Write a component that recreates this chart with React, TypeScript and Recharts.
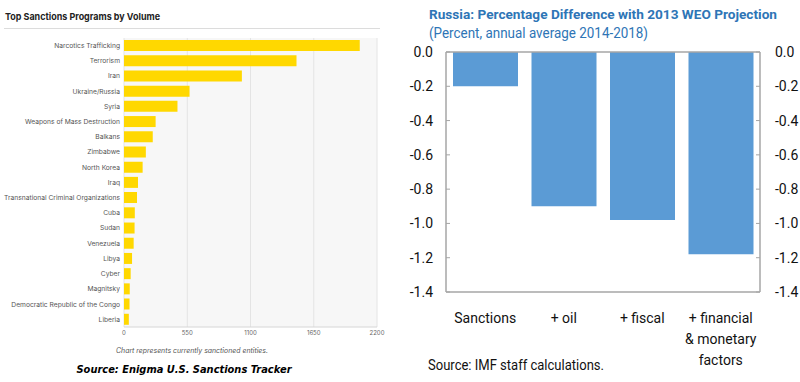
import React from 'react';
import { ComposedChart, BarChart, Bar, Line, XAxis, YAxis, CartesianGrid, ReferenceLine } from 'recharts';

// left panel: sanctions programs by number of sanctioned entities
const programs = [
  'Narcotics Trafficking',
  'Terrorism',
  'Iran',
  'Ukraine/Russia',
  'Syria',
  'Weapons of Mass Destruction',
  'Balkans',
  'Zimbabwe',
  'North Korea',
  'Iraq',
  'Transnational Criminal Organizations',
  'Cuba',
  'Sudan',
  'Venezuela',
  'Libya',
  'Cyber',
  'Magnitsky',
  'Democratic Republic of the Congo',
  'Liberia',
];
const programCounts = [2050, 1500, 1025, 570, 465, 275, 250, 190, 162, 122, 113, 94, 92, 84, 70, 58, 50, 48, 42];
const volumeTicks = [0, 550, 1100, 1650, 2200];

// right panel: IMF scenarios
const scenarios = ['Sanctions', '+ oil', '+ fiscal', '+ financial\n& monetary\nfactors'];
const scenarioDiffs = [-0.2, -0.9, -0.98, -1.18];
const pctTicks = [0, -0.2, -0.4, -0.6, -0.8, -1.0, -1.2, -1.4];

const programData = programs.map((name, i) => ({ name, count: programCounts[i] }));
const scenarioData = scenarios.map((name, i) => ({ name, diff: scenarioDiffs[i] }));

const leftFont = "Inter, 'Open Sans', sans-serif";
const rightFont = "Roboto, 'Liberation Sans', sans-serif";
const imfBlue = '#2e75b6';
const frame = '#a6a6a6';

const ProgramTick = (props: any) => {
  const { x, y, payload } = props;
  return (
    <text x={x} y={y} dy="0.35em" textAnchor="end" fontSize={6.7} fill="#555" fontFamily={leftFont}>
      {payload.value}
    </text>
  );
};

const ScenarioTick = (props: any) => {
  const { x, y, payload } = props;
  const lines = String(payload.value).split('\n');
  return (
    <text x={x} y={y} textAnchor="middle" fontSize={14} fill="#111" fontFamily={rightFont}>
      {lines.map((line, i) => (
        <tspan key={i} x={x} dy={i === 0 ? '0.71em' : 21}>
          {line}
        </tspan>
      ))}
    </text>
  );
};

const App: React.FC = () => {
  return (
    <div style={{ position: 'absolute', left: 0, top: 0, width: 800, height: 382, background: '#fff', overflow: 'hidden' }}>
      {/* left panel */}
      <div style={{ position: 'absolute', left: 0, top: 0, width: 385, height: 382 }}>
        <BarChart
          width={385}
          height={345}
          data={programData}
          layout="vertical"
          margin={{ top: 38, right: 8, left: 0, bottom: 4 }}
          barSize={11}
          barCategoryGap={0}
        >
          <CartesianGrid horizontal={false} stroke="#e4e4e4" fill="#f7f7f7" />
          <XAxis
            type="number"
            domain={[0, 2200]}
            ticks={volumeTicks}
            height={14}
            axisLine={{ stroke: '#d6d6d6' }}
            tickLine={false}
            tickSize={0}
            tickMargin={4}
            tick={{ fontSize: 6, fill: '#666', fontFamily: leftFont }}
          />
          <YAxis
            type="category"
            dataKey="name"
            width={124}
            axisLine={false}
            tickLine={false}
            tickSize={0}
            tickMargin={4}
            interval={0}
            tick={<ProgramTick />}
          />
          <Bar dataKey="count" fill="#ffd800" isAnimationActive={false} />
        </BarChart>
        <svg width={385} height={382} style={{ position: 'absolute', left: 0, top: 0, pointerEvents: 'none' }}>
          <text x={5} y={20} fontSize={9.5} fontWeight={700} fill="#222" fontFamily={leftFont} textLength={155} lengthAdjust="spacingAndGlyphs">
            Top Sanctions Programs by Volume
          </text>
          <line x1={4} x2={380} y1={28.5} y2={28.5} stroke="#dcdcdc" />
          <text x={192} y={353} textAnchor="middle" fontSize={7} fontStyle="italic" fill="#555" fontFamily={leftFont} textLength={152} lengthAdjust="spacingAndGlyphs">
            Chart represents currently sanctioned entities.
          </text>
          <text x={184} y={373} textAnchor="middle" fontSize={10.5} fontStyle="italic" fontWeight={700} fill="#000" fontFamily="'DejaVu Sans', sans-serif" textLength={215} lengthAdjust="spacingAndGlyphs">
            Source: Enigma U.S. Sanctions Tracker
          </text>
        </svg>
      </div>

      {/* right panel */}
      <div style={{ position: 'absolute', left: 380, top: 0, width: 420, height: 382 }}>
        <ComposedChart
          width={420}
          height={382}
          data={scenarioData}
          margin={{ top: 52, right: 0, left: 0, bottom: 20 }}
          barSize={65}
        >
          <XAxis
            dataKey="name"
            height={70}
            axisLine={{ stroke: frame, strokeWidth: 1.5 }}
            tickLine={false}
            tickSize={0}
            tickMargin={21}
            interval={0}
            tick={<ScenarioTick />}
          />
          <YAxis
            yAxisId="left"
            orientation="left"
            width={66}
            domain={[-1.4, 0]}
            ticks={pctTicks}
            tickFormatter={(v: number) => v.toFixed(1)}
            axisLine={{ stroke: frame, strokeWidth: 1.5 }}
            tickLine={{ stroke: frame }}
            tickSize={-4}
            tickMargin={17}
            tick={{ fontSize: 14, fill: '#111', fontFamily: rightFont }}
          />
          <YAxis
            yAxisId="right"
            orientation="right"
            width={40}
            domain={[-1.4, 0]}
            ticks={pctTicks}
            tickFormatter={(v: number) => v.toFixed(1)}
            axisLine={{ stroke: frame, strokeWidth: 1.5 }}
            tickLine={{ stroke: frame }}
            tickSize={-4}
            tickMargin={19}
            tick={{ fontSize: 14, fill: '#111', fontFamily: rightFont }}
          />
          <ReferenceLine yAxisId="left" y={0} stroke={frame} strokeWidth={1.5} />
          <Bar yAxisId="left" dataKey="diff" fill="#5b9bd5" isAnimationActive={false} />
          {/* invisible series so the right-hand axis is drawn */}
          <Line yAxisId="right" dataKey="diff" stroke="none" dot={false} activeDot={false} legendType="none" isAnimationActive={false} />
        </ComposedChart>
        <svg width={420} height={382} style={{ position: 'absolute', left: 0, top: 0, pointerEvents: 'none' }}>
          <text x={49} y={19} fontSize={13.5} fontWeight={700} fill={imfBlue} fontFamily={rightFont} textLength={348} lengthAdjust="spacingAndGlyphs">
            Russia: Percentage Difference with 2013 WEO Projection
          </text>
          <text x={49} y={38} fontSize={14.5} fill={imfBlue} fontFamily={rightFont} textLength={219} lengthAdjust="spacingAndGlyphs">
            (Percent, annual average 2014-2018)
          </text>
          <text x={48} y={370} fontSize={14} fill="#111" fontFamily={rightFont} textLength={176} lengthAdjust="spacingAndGlyphs">
            Source: IMF staff calculations.
          </text>
        </svg>
      </div>
    </div>
  );
};

export default App;
